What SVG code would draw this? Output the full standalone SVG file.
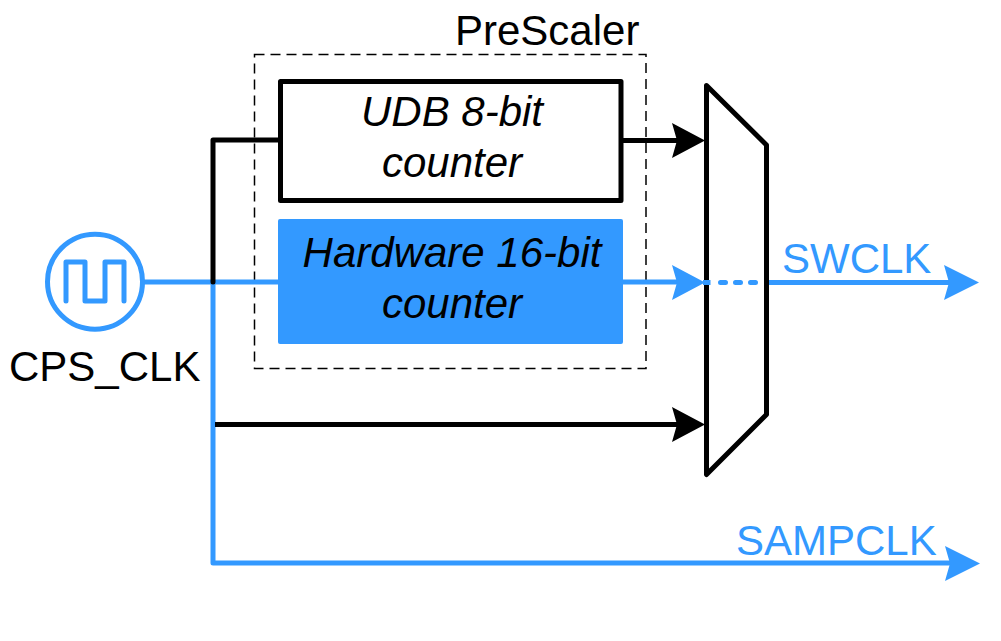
<svg xmlns="http://www.w3.org/2000/svg" width="1001" height="641" viewBox="0 0 1001 641">
<style>
text{font-family:"Liberation Sans",Arial,sans-serif;font-size:42px;fill:#000}
.i{font-style:italic;text-anchor:middle}
.b{fill:#3399ff}
.lb,.lk{fill:none;stroke-linejoin:round}
.lb{stroke:#3399ff;stroke-width:5}
.lk{stroke:#000;stroke-width:5}
.hb{fill:#3399ff}
.hk{fill:#000}
</style>
<rect width="1001" height="641" fill="#fff"/>
<g id="prescaler">
<rect x="254.500" y="54.500" width="391.500" height="314" fill="none" stroke="#000" stroke-width="1.500" stroke-dasharray="10 6"/>
<text x="455" y="45">PreScaler</text>
</g>
<g id="mux">
<path d="M706.500 85.500L766.500 145V414.500L706.500 474.500Z" fill="none" stroke="#000" stroke-width="5" stroke-linejoin="round"/>
</g>
<g id="connectors">
<path class="lb" d="M143 282H280"/>
<path class="lb" d="M213 282V563H950"/>
<path class="lk" d="M213 282V140H281" stroke-linecap="round"/>
<path class="lk" d="M215 424.500H678"/>
<path class="lk" d="M621 140.500H678"/>
<path class="lb" d="M621 282H678"/>
<path class="lb" d="M703 282.500H710.500"/>
<path d="M720.500 282.500H757" fill="none" stroke="#3399ff" stroke-width="5" stroke-linecap="round" stroke-dasharray="5 10"/>
<path class="lb" d="M769 282.500H950"/>
<path class="hk" d="M705 140.500L672 123L677 140.500L672 158Z"/>
<path class="hb" d="M705 282.500L672 265L677 282.500L672 300Z"/>
<path class="hk" d="M705 424.500L672 407L677 424.500L672 442Z"/>
<path class="hb" d="M979 282.500L944 265L949 282.500L944 300Z"/>
<path class="hb" d="M980 563.500L945 546L950 563.500L945 581Z"/>
</g>
<g id="clock">
<circle cx="95" cy="281.700" r="47.500" fill="none" stroke="#3399ff" stroke-width="5"/>
<path d="M66 301V262H85V301H105V262H124V301" fill="none" stroke="#3399ff" stroke-width="5" stroke-linecap="round" stroke-linejoin="round"/>
<text x="9" y="381">CPS_CLK</text>
</g>
<g id="udb">
<rect x="280.500" y="81.500" width="340.500" height="119" fill="#fff" stroke="#000" stroke-width="5" stroke-linejoin="round"/>
<text class="i" x="452" y="126">UDB 8-bit</text>
<text class="i" x="452" y="177">counter</text>
</g>
<g id="hardware">
<rect x="278" y="219" width="345" height="125" rx="2" fill="#3399ff"/>
<text class="i" x="452" y="267">Hardware 16-bit</text>
<text class="i" x="452" y="318">counter</text>
</g>
<g id="labels">
<text class="b" x="782" y="273">SWCLK</text>
<text class="b" x="736" y="555">SAMPCLK</text>
</g>
</svg>
